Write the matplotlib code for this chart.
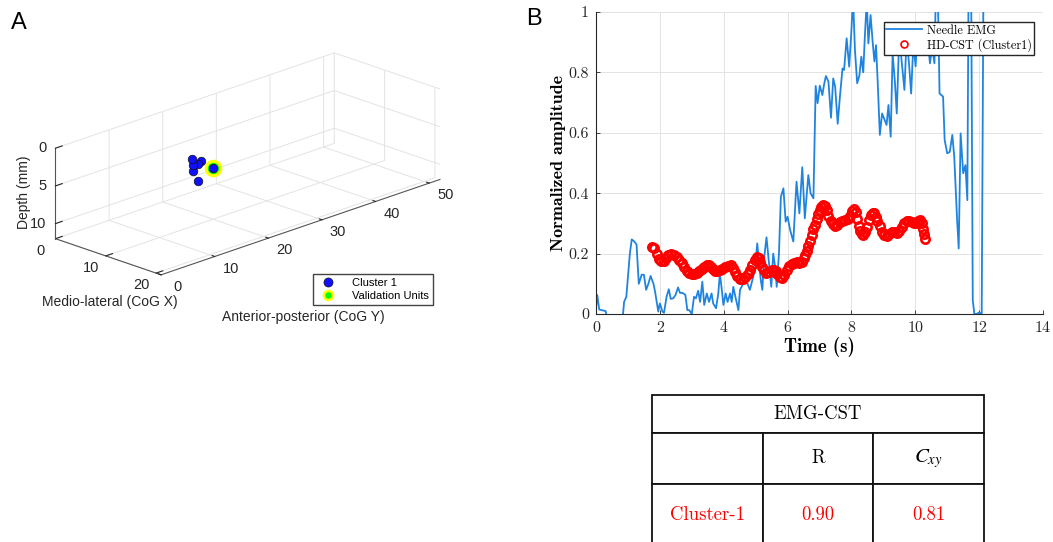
import matplotlib
matplotlib.use("Agg")
import matplotlib.pyplot as plt
from matplotlib.lines import Line2D
from mpl_toolkits.mplot3d import proj3d

# ---- panel A: motor-unit centres of gravity (mm)
cog_ml = [12.4, 12.4, 12.4, 12.4, 12.4, 12.4, 12.4]
cog_ap = [13.8, 14.0, 14.9, 15.5, 14.0, 14.9, 17.7]
cog_depth = [1.9, 2.75, 2.9, 2.7, 3.6, 5.2, 4.1]
valid_ml = [12.4]
valid_ap = [17.7]
valid_depth = [4.1]

ml_ticks = [0, 10, 20]
ap_ticks = [0, 10, 20, 30, 40, 50]
depth_ticks = [0, 5, 10]
ML_MAX, AP_MAX, DEPTH_MAX = 21, 52, 12

# ---- panel B: normalized amplitudes
emg_t = [0.0, 0.04, 0.1, 0.2, 0.3, 0.36, 0.83, 0.88, 0.95, 1.06, 1.12, 1.2, 1.27, 1.34,
         1.43, 1.5, 1.57, 1.64, 1.71, 1.8, 1.85, 1.9, 1.95, 2.0, 2.08, 2.13, 2.21, 2.28,
         2.34, 2.42, 2.49, 2.57, 2.63, 2.71, 2.8, 2.86, 2.92, 3.0, 3.07, 3.13, 3.2, 3.26,
         3.33, 3.39, 3.47, 3.54, 3.62, 3.67, 3.76, 3.83, 3.88, 3.94, 3.99, 4.06, 4.12,
         4.2, 4.25, 4.3, 4.37, 4.46, 4.51, 4.61, 4.72, 4.82, 4.9, 4.98, 5.05, 5.1, 5.16,
         5.21, 5.26, 5.34, 5.42, 5.49, 5.55, 5.61, 5.66, 5.73, 5.79, 5.87, 5.94, 6.0,
         6.08, 6.18, 6.28, 6.37, 6.46, 6.54, 6.65, 6.72, 6.81, 6.88, 6.94, 7.01, 7.09,
         7.14, 7.2, 7.28, 7.36, 7.43, 7.49, 7.57, 7.64, 7.72, 7.77, 7.85, 7.93, 8.0,
         8.05, 8.11, 8.18, 8.25, 8.31, 8.37, 8.42, 8.48, 8.53, 8.6, 8.66, 8.72, 8.77,
         8.82, 8.89, 8.96, 9.02, 9.1, 9.16, 9.23, 9.29, 9.36, 9.42, 9.5, 9.57, 9.66,
         9.73, 9.81, 9.87, 9.94, 10.01, 10.07, 10.15, 10.23, 10.3, 10.38, 10.46, 10.53,
         10.6, 10.65, 10.7, 10.76, 10.87, 10.92, 11.0, 11.08, 11.16, 11.22, 11.31,
         11.36, 11.42, 11.5, 11.57, 11.63, 11.68, 11.74, 11.8, 11.85, 11.92, 12.0,
         12.08, 12.13, 12.2]
emg_amp = [0.02, 0.063, 0.015, 0.012, 0.01, -0.02, -0.02, 0.04, 0.057, 0.2, 0.247, 0.24,
           0.23, 0.10, 0.13, 0.13, 0.08, 0.10, 0.126, 0.10, 0.074, 0.04, 0.008, 0.035,
           0.008, 0.004, 0.057, 0.082, 0.05, 0.052, 0.063, 0.088, 0.07, 0.07, 0.063,
           0.013, 0.013, 0.0, 0.057, 0.052, 0.077, 0.04, 0.107, 0.03, 0.068, 0.04, 0.068,
           0.035, 0.019, 0.068, 0.135, 0.08, 0.03, 0.068, 0.04, 0.068, 0.04, 0.09, 0.055,
           0.013, 0.08, 0.1, 0.107, 0.08, 0.113, 0.148, 0.234, 0.18, 0.113, 0.08, 0.18,
           0.254, 0.168, 0.09, 0.2, 0.157, 0.09, 0.2, 0.388, 0.416, 0.306, 0.322, 0.278,
           0.24, 0.438, 0.333, 0.486, 0.317, 0.46, 0.4, 0.383, 0.755, 0.698, 0.756,
           0.725, 0.758, 0.788, 0.77, 0.65, 0.78, 0.753, 0.63, 0.72, 0.813, 0.808, 0.913,
           0.819, 0.94, 1.05, 0.874, 0.764, 0.79, 0.852, 0.8, 0.918, 1.04, 0.896, 0.99,
           0.907, 0.836, 0.89, 0.775, 0.593, 0.664, 0.648, 0.626, 0.692, 0.587, 0.863,
           0.77, 0.664, 0.93, 0.84, 0.742, 0.918, 0.82, 0.73, 0.896, 0.82, 0.94, 0.874,
           0.907, 0.857, 0.918, 0.83, 0.885, 0.83, 1.1, 1.1, 0.73, 0.72, 0.576, 0.532,
           0.537, 0.593, 0.521, 0.311, 0.217, 0.598, 0.466, 0.493, 0.377, 1.3, 1.3,
           0.046, 0.0, 0.0, 0.005, 0.0, 1.0, 1.4]

cst_t = [1.75, 1.82, 1.9, 1.97, 2.05, 2.13, 2.2, 2.27, 2.35, 2.45, 2.53, 2.6, 2.68, 2.76,
         2.84, 2.92, 3.0, 3.08, 3.15, 3.23, 3.31, 3.39, 3.47, 3.53, 3.6, 3.67, 3.73, 3.8,
         3.88, 3.96, 4.04, 4.12, 4.22, 4.28, 4.35, 4.43, 4.51, 4.59, 4.67, 4.75, 4.82,
         4.9, 4.98, 5.04, 5.1, 5.15, 5.19, 5.26, 5.34, 5.42, 5.5, 5.57, 5.63, 5.68, 5.75,
         5.81, 5.89, 5.97, 6.05, 6.13, 6.2, 6.28, 6.36, 6.44, 6.5, 6.55, 6.6, 6.65, 6.7,
         6.75, 6.8, 6.85, 6.91, 6.96, 7.01, 7.06, 7.12, 7.17, 7.22, 7.28, 7.35, 7.41,
         7.48, 7.56, 7.64, 7.72, 7.8, 7.88, 7.95, 8.02, 8.08, 8.13, 8.18, 8.23, 8.27,
         8.32, 8.37, 8.43, 8.48, 8.54, 8.6, 8.66, 8.71, 8.76, 8.81, 8.88, 8.95, 9.02,
         9.1, 9.18, 9.26, 9.34, 9.42, 9.5, 9.57, 9.65, 9.73, 9.81, 9.89, 9.97, 10.04,
         10.1, 10.15, 10.2, 10.24, 10.27, 10.3]
cst_amp = [0.222, 0.22, 0.2, 0.182, 0.175, 0.177, 0.187, 0.195, 0.198, 0.194, 0.188,
           0.178, 0.168, 0.155, 0.143, 0.136, 0.132, 0.132, 0.135, 0.141, 0.148, 0.157,
           0.162, 0.162, 0.155, 0.148, 0.143, 0.143, 0.146, 0.15, 0.155, 0.16, 0.161,
           0.152, 0.14, 0.125, 0.115, 0.115, 0.121, 0.132, 0.146, 0.163, 0.179, 0.188,
           0.186, 0.172, 0.157, 0.145, 0.137, 0.14, 0.147, 0.147, 0.142, 0.134, 0.124,
           0.12, 0.13, 0.146, 0.158, 0.166, 0.17, 0.171, 0.168, 0.172, 0.185, 0.197,
           0.21, 0.225, 0.243, 0.262, 0.28, 0.296, 0.313, 0.33, 0.344, 0.355, 0.361,
           0.357, 0.345, 0.326, 0.309, 0.298, 0.292, 0.296, 0.304, 0.309, 0.311, 0.316,
           0.325, 0.34, 0.347, 0.337, 0.315, 0.29, 0.275, 0.265, 0.262, 0.272, 0.289,
           0.31, 0.328, 0.335, 0.333, 0.322, 0.309, 0.29, 0.273, 0.262, 0.258, 0.265,
           0.273, 0.27, 0.267, 0.275, 0.287, 0.3, 0.309, 0.307, 0.303, 0.302, 0.302,
           0.308, 0.311, 0.3, 0.282, 0.265, 0.25]

time_ticks = [0, 2, 4, 6, 8, 10, 12, 14]
amp_ticks = [0, 0.2, 0.4, 0.6, 0.8, 1.0]
amp_labels = ["0", "0.2", "0.4", "0.6", "0.8", "1"]

# ---- table under panel B
table_header = "EMG-CST"
table_cols = ["", "R", "$C_{xy}$"]
table_row = ["Cluster-1", "0.90", "0.81"]

plt.rcParams["mathtext.fontset"] = "stix"
plt.rcParams["grid.color"] = "#e3e3e3"
plt.rcParams["grid.linewidth"] = 0.7

SANS = "Liberation Sans"
DARK = "#262626"
EDGE = "#555555"

fig = plt.figure(figsize=(10.53, 5.42), dpi=100)

# ================= panel A (3D) =================
# depth grows downwards, so it is plotted as negative z and relabelled
ax3 = fig.add_axes([-0.004, 0.3845, 0.47, 0.61], projection="3d")
ax3.set_proj_type("ortho")
ax3.view_init(elev=20, azim=-45)
ax3.set_xlim(0, ML_MAX)
ax3.set_ylim(0, AP_MAX)
ax3.set_zlim(-DEPTH_MAX, 0)
ax3.set_box_aspect((19.7, 52, 12.7), zoom=1.27)

ax3.scatter(valid_ml, valid_ap, [-d for d in valid_depth], s=110, c="#00ff00",
            edgecolors="#ffff00", linewidths=2.2, depthshade=False)
ax3.scatter(cog_ml, cog_ap, [-d for d in cog_depth], s=38, c="#1010ff",
            edgecolors="#101010", linewidths=0.5, depthshade=False)

for axis in (ax3.xaxis, ax3.yaxis, ax3.zaxis):
    axis.set_pane_color((1, 1, 1, 0))
    axis.pane.set_closed(True)
    axis.pane.set_edgecolor(EDGE)
    axis.pane.set_linewidth(0.8)
    axis.line.set_color(EDGE)
    axis.line.set_linewidth(0.8)
    axis._axinfo["tick"]["inward_factor"] = 0.0
    axis._axinfo["tick"]["outward_factor"] = 0.3
# far right edge of the box
ax3.plot([ML_MAX, ML_MAX], [AP_MAX, AP_MAX], [-DEPTH_MAX, 0], color=EDGE, lw=0.8)

ax3.zaxis.set_ticks_position("lower")
ax3.set_xticks(ml_ticks)
ax3.set_yticks(ap_ticks)
ax3.set_zticks([-d for d in depth_ticks])
ax3.tick_params(colors=DARK)
for axis in (ax3.xaxis, ax3.yaxis, ax3.zaxis):
    for t in axis.get_major_ticks():
        t.label1.set_visible(False)
        t.label2.set_visible(False)

fig.canvas.draw()


def label3d(x, y, z, s, **kw):
    # project a 3D anchor and write a plain 2D label there
    px, py, _ = proj3d.proj_transform(x, y, z, ax3.M)
    ax3.text2D(px, py, s, transform=ax3.transData, **kw)


# tick labels MATLAB style: horizontal, close to the box
lab_kw = dict(fontsize=10.5, family=SANS, color=DARK, va="center")
for v in ml_ticks:
    label3d(v, -2.8, -DEPTH_MAX - 0.94, str(v), ha="center", **lab_kw)
for v in ap_ticks:
    label3d(ML_MAX + 3.2, v, -DEPTH_MAX - 0.87, str(v), ha="center", **lab_kw)
for d in depth_ticks:
    label3d(-0.88, -0.84, -d, str(d), ha="right", **lab_kw)

fig.text(0.1045, 0.4428, "Medio-lateral (CoG X)", fontsize=10, family=SANS,
         color=DARK, ha="center", va="center")
fig.text(0.2877, 0.4151, "Anterior-posterior (CoG Y)", fontsize=10, family=SANS,
         color=DARK, ha="center", va="center")
fig.text(0.0228, 0.6458, "Depth (mm)", fontsize=10, family=SANS, color=DARK,
         ha="center", va="center", rotation=90)

handles = [Line2D([], [], ls="none", marker="o", ms=6.5, mfc="#1010ff", mec="#101010", mew=0.5),
           Line2D([], [], ls="none", marker="o", ms=6.5, mfc="#00ff00", mec="#ffff00", mew=1.8)]
fig.legend(handles, ["Cluster 1", "Validation Units"], loc="upper left",
           bbox_to_anchor=(0.297, 0.4945), fancybox=False, edgecolor="#444444",
           framealpha=1, prop={"family": SANS, "size": 8}, borderaxespad=0,
           handletextpad=1.2, borderpad=0.35, labelspacing=0.3)

fig.text(0.010, 0.958, "A", fontsize=17, family=SANS, va="center")

# ================= panel B =================
ax = fig.add_axes([596 / 1053, 1 - 314 / 542, 447 / 1053, 302 / 542])
ax.plot(emg_t, emg_amp, color="#1f84e0", lw=1.3, label="Needle EMG")
ax.plot(cst_t, cst_amp, ls="none", marker="o", ms=6, mfc="none", mec="#ff0000",
        mew=1.9, label="HD-CST (Cluster1)")
ax.set_xlim(0, 14)
ax.set_ylim(0, 1)
ax.set_xticks(time_ticks)
ax.set_xticklabels([str(t) for t in time_ticks])
ax.set_yticks(amp_ticks)
ax.set_yticklabels(amp_labels)
ax.grid(True)
ax.set_axisbelow(True)
for side in ("top", "right"):
    ax.spines[side].set_visible(False)
for side in ("left", "bottom"):
    ax.spines[side].set_color(DARK)
    ax.spines[side].set_linewidth(0.8)
ax.tick_params(direction="in", length=3, width=0.6, colors=DARK, labelsize=11.5, pad=5)
for lab in ax.get_xticklabels() + ax.get_yticklabels():
    lab.set_fontfamily("cmr10")
ax.set_xlabel("Time (s)", fontsize=13.5, family="cmb10", labelpad=2)
ax.set_ylabel("Normalized amplitude", fontsize=13, family="cmb10", labelpad=2)
leg = ax.legend(loc="upper right", bbox_to_anchor=(0.98, 0.967), fancybox=False,
                edgecolor=DARK, framealpha=1, prop={"family": "cmr10", "size": 8.8},
                borderpad=0.2, handlelength=2.9, handletextpad=0.4, labelspacing=0.15,
                borderaxespad=0)
leg.legend_handles[1].set_markersize(5)
leg.legend_handles[1].set_markeredgewidth(1.2)

fig.text(0.500, 0.965, "B", fontsize=17, family=SANS, va="center")

# ================= table =================
axt = fig.add_axes([652 / 1053, -4 / 542, 332 / 1053, 151 / 542])
axt.axis("off")
cells = [["", table_header, ""], table_cols, table_row]
tab = axt.table(cellText=cells, cellLoc="center", bbox=[0, 0, 1, 1])
tab.auto_set_font_size(False)
row_h = [38, 51, 62]
for (r, c), cell in tab.get_celld().items():
    cell.set_height(row_h[r] / 151)
    cell.set_linewidth(1.3)
    cell.set_edgecolor("#111111")
    txt = cell.get_text()
    txt.set_fontsize(13.5)
    txt.set_fontfamily("cmr10")
    if r == 0:
        cell.visible_edges = {0: "BLT", 1: "BT", 2: "BRT"}[c]
    if r == 2:
        txt.set_color("#ff0000")
        cell.visible_edges = "LTR"
tab.get_celld()[(1, 2)].get_text().set_fontfamily("DejaVu Sans")
tab.get_celld()[(1, 2)].get_text().set_fontsize(15)

fig.savefig("out.png", dpi=100)
